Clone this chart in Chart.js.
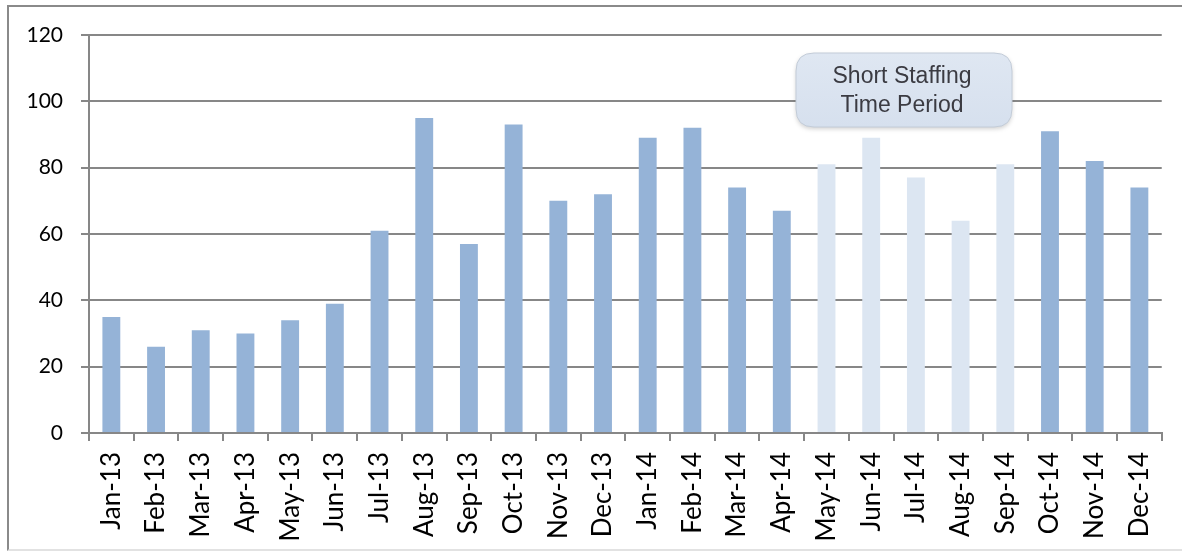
<!DOCTYPE html>
<html>
<head>
<meta charset="utf-8">
<script src="https://cdn.jsdelivr.net/npm/chart.js@4.4.1/dist/chart.umd.min.js"></script>
<style>
  html, body { margin: 0; padding: 0; background: #ffffff; }
  #wrap { position: relative; width: 1182px; height: 553px; overflow: hidden; }
  #frame { position: absolute; left: 7px; top: 5px; width: 1300px; height: 542px;
           border-top: 2px solid #8a8a8a; border-left: 2px solid #8a8a8a; border-bottom: 2px solid #e2e2e2; }
  canvas { position: absolute; left: 0; top: 0; }
</style>
</head>
<body>
<div id="wrap">
  <div id="frame"></div>
  <canvas id="c" width="1182" height="553"></canvas>
</div>
<script>
const categories = ['Jan-13','Feb-13','Mar-13','Apr-13','May-13','Jun-13','Jul-13','Aug-13','Sep-13','Oct-13','Nov-13','Dec-13',
                    'Jan-14','Feb-14','Mar-14','Apr-14','May-14','Jun-14','Jul-14','Aug-14','Sep-14','Oct-14','Nov-14','Dec-14'];
const values = [35, 26, 31, 30, 34, 39, 61, 95, 57, 93, 70, 72,
                89, 92, 74, 67, 81, 89, 77, 64, 81, 91, 82, 74];
const shortStaffingMonths = ['May-14','Jun-14','Jul-14','Aug-14','Sep-14'];
const yTicks = [0, 20, 40, 60, 80, 100, 120];
const calloutLines = ['Short Staffing', 'Time Period'];

const normalColor = '#95b3d7';
const shortColor = '#dce6f2';
const gridColor = '#878787';
const barColors = categories.map(c => shortStaffingMonths.includes(c) ? shortColor : normalColor);

function roundRect(ctx, x, y, w, h, r) {
  ctx.beginPath();
  ctx.moveTo(x + r, y);
  ctx.lineTo(x + w - r, y);
  ctx.quadraticCurveTo(x + w, y, x + w, y + r);
  ctx.lineTo(x + w, y + h - r);
  ctx.quadraticCurveTo(x + w, y + h, x + w - r, y + h);
  ctx.lineTo(x + r, y + h);
  ctx.quadraticCurveTo(x, y + h, x, y + h - r);
  ctx.lineTo(x, y + r);
  ctx.quadraticCurveTo(x, y, x + r, y);
  ctx.closePath();
}

const calloutPlugin = {
  id: 'callout',
  afterDraw(chart) {
    const ctx = chart.ctx;
    const x = 796, y = 53, w = 216, h = 74, r = 18;
    ctx.save();
    ctx.shadowColor = 'rgba(0,0,0,0.18)';
    ctx.shadowBlur = 4;
    ctx.shadowOffsetY = 2;
    const g = ctx.createLinearGradient(0, y, 0, y + h);
    g.addColorStop(0, '#dfe7f2');
    g.addColorStop(1, '#d6e0ee');
    roundRect(ctx, x, y, w, h, r);
    ctx.fillStyle = g;
    ctx.fill();
    ctx.restore();
    ctx.save();
    roundRect(ctx, x, y, w, h, r);
    ctx.strokeStyle = '#c3ccd8';
    ctx.lineWidth = 1;
    ctx.stroke();
    ctx.fillStyle = '#3b3b42';
    ctx.font = '23px "Liberation Sans", Arial, sans-serif';
    ctx.textAlign = 'center';
    ctx.textBaseline = 'alphabetic';
    ctx.fillText(calloutLines[0], x + w / 2 - 2, 83);
    ctx.fillText(calloutLines[1], x + w / 2 - 2, 112);
    ctx.restore();
  }
};

new Chart(document.getElementById('c'), {
  type: 'bar',
  data: {
    labels: categories,
    datasets: [{
      data: values,
      backgroundColor: barColors,
      borderWidth: 0,
      barPercentage: 0.4,
      categoryPercentage: 1.0
    }]
  },
  options: {
    responsive: false,
    animation: false,
    devicePixelRatio: 1,
    layout: { padding: { left: 0, right: 20, top: 35, bottom: 0 } },
    plugins: { legend: { display: false }, tooltip: { enabled: false }, title: { display: false } },
    scales: {
      x: {
        offset: true,
        afterFit(s) { s.height = 120; },
        grid: { display: true, drawOnChartArea: false, drawTicks: true, tickLength: 8, color: gridColor, lineWidth: 2, offset: true },
        border: { display: true, color: gridColor, width: 2 },
        ticks: {
          autoSkip: false, minRotation: 90, maxRotation: 90, padding: 11,
          color: '#000000',
          font: { family: 'Lato, "Noto Sans", sans-serif', size: 26 }
        }
      },
      y: {
        min: 0, max: 120,
        afterFit(s) { s.width = 89; },
        afterBuildTicks(s) { s.ticks = yTicks.map(v => ({ value: v })); },
        grid: { color: gridColor, lineWidth: 2, drawTicks: true, tickLength: 8 },
        border: { display: true, color: gridColor, width: 2 },
        ticks: {
          padding: 18, color: '#000000',
          font: { family: 'Lato, "Noto Sans", sans-serif', size: 21 }
        }
      }
    }
  },
  plugins: [calloutPlugin]
});
</script>
</body>
</html>
